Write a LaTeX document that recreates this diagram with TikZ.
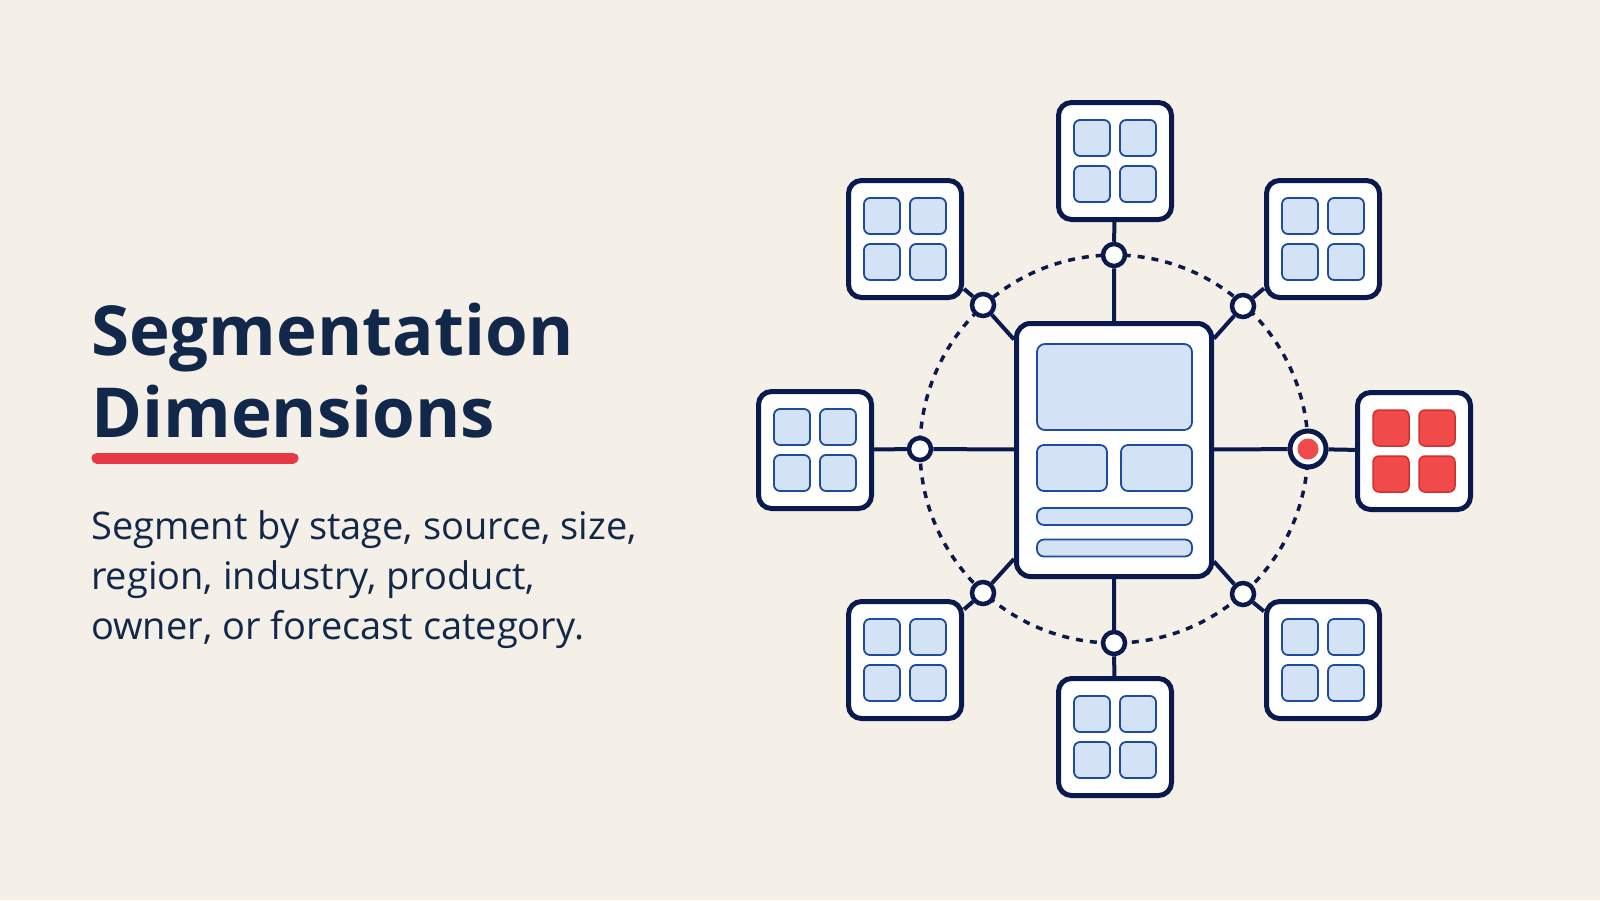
\documentclass[tikz,border=0pt]{standalone}
\usepackage{fontspec}
\setmainfont{Open Sans}
\definecolor{bg}{HTML}{F4F0E8}
\definecolor{navy}{HTML}{0B1A4C}
\definecolor{ink}{HTML}{12284A}
\definecolor{lblue}{HTML}{D3E2F4}
\definecolor{mblue}{HTML}{1D4B9E}
\definecolor{accent}{HTML}{E63946}
\definecolor{rfill}{HTML}{F04A4A}
\definecolor{rline}{HTML}{D42F2F}
\tikzset{
  obox/.style={draw=navy, line width=5, fill=white, rounded corners=13, minimum width=113, minimum height=117, inner sep=0},
  mainbox/.style={draw=navy, line width=5, fill=white, rounded corners=14, minimum width=195, minimum height=253, inner sep=0},
  sq/.style={draw=mblue, line width=1.8, fill=lblue, rounded corners=6, minimum width=36, minimum height=36, inner sep=0},
  rsq/.style={draw=rline, line width=1.5, fill=rfill, rounded corners=6, minimum width=36, minimum height=36, inner sep=0},
  panel/.style={draw=mblue, line width=1.8, fill=lblue, rounded corners=#1, inner sep=0},
  dot/.style={circle, draw=navy, line width=4.5, fill=white, minimum size=22, inner sep=0},
  link/.style={draw=navy, line width=4},
  ring/.style={draw=navy, line width=3.5, dash pattern=on 7 off 7},
  ttl/.style={anchor=base west, inner sep=0, text=ink, font=\fontsize{69}{78}\selectfont\bfseries},
  body/.style={anchor=base west, inner sep=0, text=ink, font=\fontsize{38}{46}\selectfont},
}
\newcommand\gridbox[4]{%
  \node[obox] (#1) at (#2,#3) {};
  \begin{scope}[shift={(#2,#3)}]
    \node[#4] (#1a) at (-23,-23) {};
    \node[#4] (#1b) at (23,-23) {};
    \node[#4] (#1c) at (-23,23) {};
    \node[#4] (#1d) at (23,23) {};
  \end{scope}}
\begin{document}
\begin{tikzpicture}[x=1pt,y=-1pt]
\fill[bg] (0,0) rectangle (1600,900);
\useasboundingbox (0,0) rectangle (1600,900);

% text
\node[ttl] (t1) at (91,355) {Segmentation};
\node[ttl] (t2) at (91,437) {Dimensions};
\draw[accent, line width=11, line cap=round] (97,458) -- (293,458);
\node[body] (b1) at (91,539) {Segment by stage, source, size,};
\node[body] (b2) at (91,589) {region, industry, product,};
\node[body] (b3) at (91,639) {owner, or forecast category.};

% ring
\draw[ring] (1114,449) circle (194);

% main box
\node[mainbox] (m) at (1114,450) {};
\node[panel=8, minimum width=155, minimum height=86] (p1) at (1114.5,387) {};
\node[panel=7, minimum width=70, minimum height=46] (p2) at (1072,468) {};
\node[panel=7, minimum width=71, minimum height=46] (p3) at (1156.5,468) {};
\node[panel=7, minimum width=155, minimum height=17] (p4) at (1114.5,516.5) {};
\node[panel=7, minimum width=155, minimum height=17] (p5) at (1114.5,548) {};

% outer boxes
\gridbox{oT}{1115}{161}{sq}
\gridbox{oB}{1115}{737}{sq}
\gridbox{oL}{815}{450}{sq}
\gridbox{oR}{1414}{451}{rsq}
\gridbox{oTL}{905}{239}{sq}
\gridbox{oTR}{1323}{239}{sq}
\gridbox{oBL}{905}{660}{sq}
\gridbox{oBR}{1323}{660}{sq}

% ring nodes
\node[dot] (nT) at (1114,255) {};
\node[dot] (nB) at (1114,643) {};
\node[dot] (nL) at (920,449) {};
\node[dot] (nTL) at (983,305) {};
\node[dot] (nTR) at (1243,306) {};
\node[dot] (nBL) at (983,593) {};
\node[dot] (nBR) at (1243,594) {};
\node[circle, draw=navy, line width=5, fill=white, minimum size=36, inner sep=0] (nR) at (1308,449) {};
\node[circle, fill=rfill, minimum size=21, inner sep=0] (nRd) at (nR) {};

% connectors
\draw[link] (m) -- (nT) (nT) -- (oT);
\draw[link] (m) -- (nB) (nB) -- (oB);
\draw[link] (m) -- (nL) (nL) -- (oL);
\draw[link] (m) -- (nR) (nR) -- (oR);
\draw[link] (m) -- (nTL) (nTL) -- (oTL);
\draw[link] (m) -- (nTR) (nTR) -- (oTR);
\draw[link] (m) -- (nBL) (nBL) -- (oBL);
\draw[link] (m) -- (nBR) (nBR) -- (oBR);
\end{tikzpicture}
\end{document}
